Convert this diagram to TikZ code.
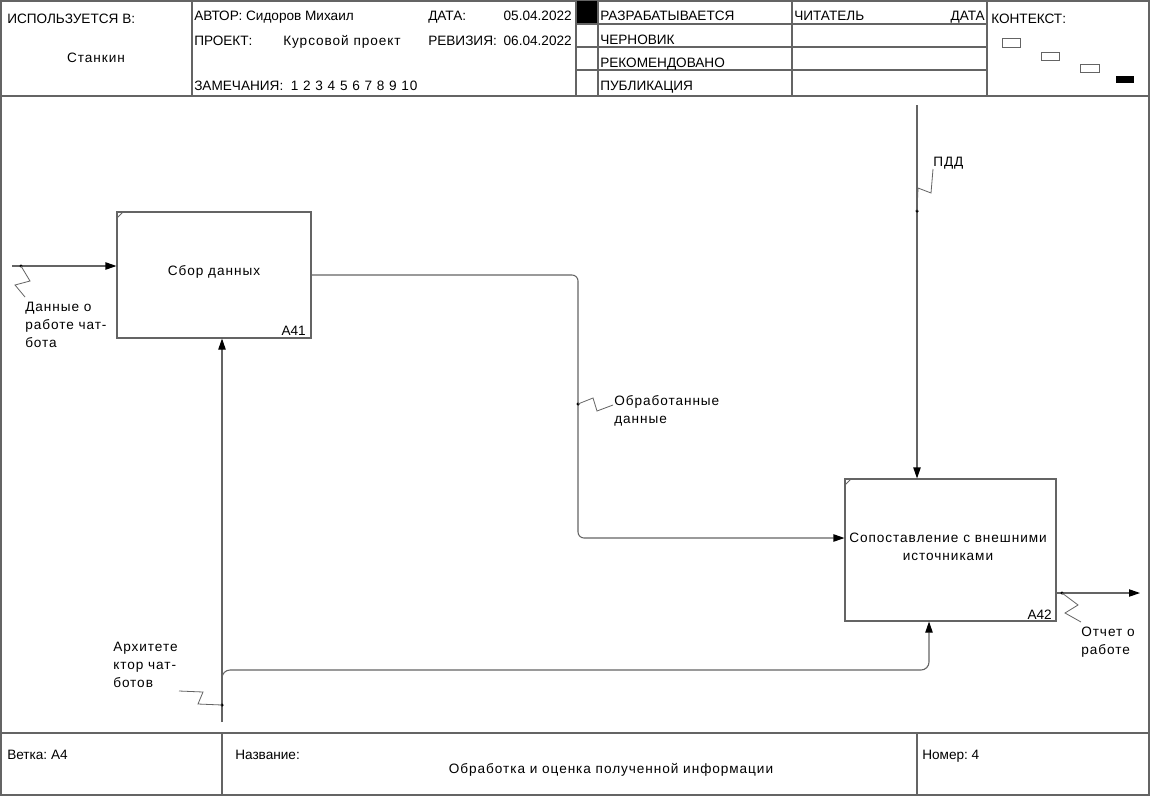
\documentclass[tikz,border=0pt]{standalone}
\usepackage{fontspec}
\setmainfont{Liberation Sans}
\newfontfamily\spfont{Liberation Sans}[LetterSpace=7]
\usetikzlibrary{arrows.meta,calc}
\definecolor{ln}{RGB}{100,100,100}
\newcommand\fsz{\fontsize{10.2pt}{13.5pt}\selectfont}
\begin{document}
\begin{tikzpicture}[x=0.75pt,y=-0.75pt,
  every node/.style={inner sep=0pt, font=\fsz, text=black},
  frame/.style={draw=ln, line width=0.8pt},
  conn/.style={draw=ln, line width=0.8pt},
  arr/.style={conn, -{Triangle[length=8.25pt,width=5.5pt,color=black]}},
  box/.style={draw=ln, line width=0.8pt, rectangle},
  dotm/.style={circle, fill=black, minimum size=2.6pt, inner sep=0pt},
  lbl/.style={align=left, anchor=north west, font=\fsz\spfont},
  sp/.style={font=\fsz\spfont},
  hd/.style={anchor=base west}]
\fill[white] (0,0) rectangle (1151,796);
\useasboundingbox (0,0) rectangle (1151,796);

% ---------- frame ----------
\draw[frame] (1,1) rectangle (1149,795);
\draw[frame] (1,96) -- (1149,96);
\draw[frame] (1,733) -- (1149,733);
\foreach \x in {192,576,598,792,987} \draw[frame] (\x,1) -- (\x,96);
\foreach \y in {24,47,70} \draw[frame] (576,\y) -- (987,\y);
\fill[black] (577,1) rectangle (597,23);
\foreach \x in {222,917} \draw[frame] (\x,733) -- (\x,795);

% context thumbnails
\draw[ln, line width=0.6pt] (1002,38) rectangle (1020,47);
\draw[ln, line width=0.6pt] (1041,52) rectangle (1059,60);
\draw[ln, line width=0.6pt] (1080,64) rectangle (1099,72);
\fill[black] (1116,76) rectangle (1134,83);

% ---------- header text ----------
\node[hd] (h1) at (7,23) {ИСПОЛЬЗУЕТСЯ В:};
\node[anchor=base, sp] (h2) at (96,62) {Станкин};
\node[hd] (h3) at (194,21) {АВТОР: Сидоров Михаил};
\node[hd] (h4) at (428,21) {ДАТА:};
\node[anchor=base east] (h5) at (572,21) {05.04.2022};
\node[hd] (h6) at (194,45) {ПРОЕКТ:};
\node[hd, sp] (h7) at (283,45) {Курсовой проект};
\node[hd] (h8) at (428,45) {РЕВИЗИЯ:};
\node[anchor=base east] (h9) at (572,45) {06.04.2022};
\node[hd] (h10) at (194,90) {ЗАМЕЧАНИЯ:\ \ {\spfont 1 2 3 4 5 6 7 8 9 10}};
\node[hd] (h11) at (600,21) {РАЗРАБАТЫВАЕТСЯ};
\node[hd] (h12) at (600,44) {ЧЕРНОВИК};
\node[hd] (h13) at (600,67) {РЕКОМЕНДОВАНО};
\node[hd] (h14) at (600,90) {ПУБЛИКАЦИЯ};
\node[hd] (h15) at (794,21) {ЧИТАТЕЛЬ};
\node[anchor=base east] (h16) at (985,21) {ДАТА};
\node[hd] (h17) at (991,23) {КОНТЕКСТ:};

% ---------- footer text ----------
\node[hd] (f1) at (7,759) {Ветка:\ A4};
\node[hd] (f2) at (235,759) {Название:};
\node[anchor=base, sp] (f3) at (611,773) {Обработка и оценка полученной информации};
\node[hd] (f4) at (922,759) {Номер:\ 4};

% ---------- boxes ----------
\node[box, minimum width=145.5pt, minimum height=94.5pt] (A41) at (214,275) {};
\node[box, minimum width=158.25pt, minimum height=106.5pt] (A42) at (950.5,550) {};
\draw[ln, line width=0.6pt] (117,218) -- (123,212);
\draw[ln, line width=0.6pt] (845,485) -- (851,479);
\node[anchor=base, sp] (t41) at (214,275) {Сбор данных};
\node[align=center, anchor=north, sp] (t42) at (948,533) {Сопоставление с внешними\\источниками};
\node[anchor=base east] (n41) at (306,335) {A41};
\node[anchor=base east] (n42) at (1052,619) {A42};

% ---------- connectors ----------
% input
\coordinate (inS) at (12,266);
\draw[arr] (inS) -- (inS -| A41.west);
\node[dotm] (d1) at (21,266) {};
\draw[ln, line width=0.6pt] (d1.center) -- (30,281) -- (15,285) -- (25,297);
\node[lbl] (l1) at (25,302) {Данные о\\работе чат-\\бота};

% output of A41 -> input of A42
\coordinate (c1) at (578,538);
\draw[arr, rounded corners=4.5pt] (A41.east) -| (c1) -- (c1 -| A42.west);
\node[dotm] (d2) at (578,404) {};
\draw[ln, line width=0.6pt] (d2.center) -- (593,398) -- (597,411) -- (613,405);
\node[lbl] (l2) at (614,395) {Обработанные\\данные};

% control ПДД
\coordinate (pdd) at (917,105);
\draw[arr] (pdd) -- (pdd |- A42.north);
\node[dotm] (d3) at (917,211) {};
\draw[ln, line width=0.6pt] (d3.center) -- (918,188) -- (931,193) -- (933,169);
\node[lbl] (l3) at (933,157) {ПДД};

% mechanism
\coordinate (m0) at (222,722);
\draw[arr] (m0) -- (m0 |- A41.south);
\coordinate (m1) at (222,690);
\coordinate (m2) at (929,670);
\draw[arr, rounded corners=6pt] (m1) |- (m2) -- (m2 |- A42.south);
\node[dotm] (d4) at (222,705) {};
\draw[ln, line width=0.6pt] (d4.center) -- (198,704) -- (203,692) -- (179,691);
\node[lbl] (l4) at (113,642) {Архитете\\ктор чат-\\ботов};

% output
\coordinate (out) at (1140,593);
\draw[arr] (out -| A42.east) -- (out);
\node[dotm] (d5) at (1062,593) {};
\draw[ln, line width=0.6pt] (d5.center) -- (1078,605) -- (1065,613) -- (1081,622);
\node[lbl] (l5) at (1081,627) {Отчет о\\работе};
\end{tikzpicture}
\end{document}
